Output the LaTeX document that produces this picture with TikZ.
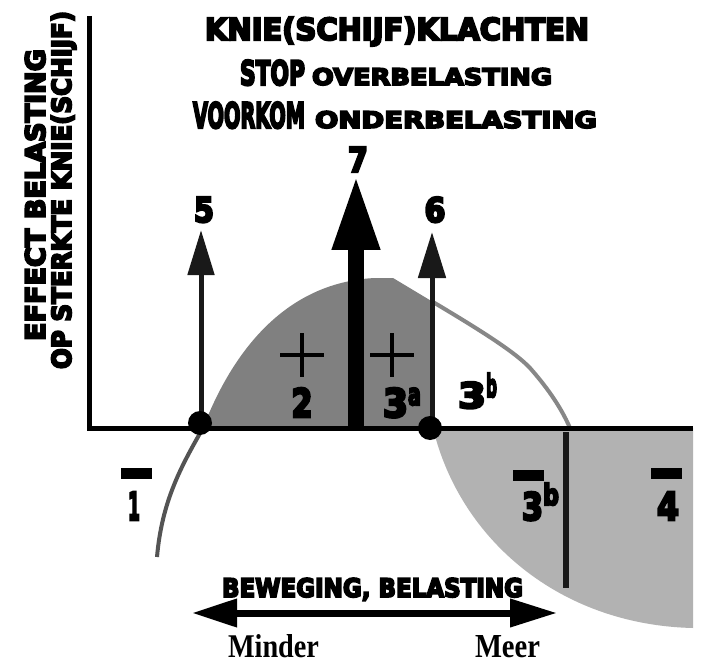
\documentclass[tikz,border=0pt]{standalone}
\usepackage{fontspec}
\usepackage{graphicx}
\usetikzlibrary{arrows.meta}
\newfontfamily\heavy{DejaVu Sans}[FakeBold=7, BoldFeatures={FakeBold=7}]
\newfontfamily\serifb{Liberation Serif}
\newcommand\hvfit[3]{\resizebox{#1}{#2}{\heavy\bfseries #3}}
\newcommand\sefit[3]{\resizebox{#1}{#2}{\serifb\bfseries #3}}
\begin{document}
\begin{tikzpicture}[x=1pt,y=-1pt,
  lbl/.style={inner sep=0pt, outer sep=0pt},
  shaft/.style={line width=5pt, draw=black!90},
  curveline/.style={line width=4pt},
  plus/.style={line width=4pt, draw=black}]
\useasboundingbox[fill=white] (0,0) rectangle (707,663);
% regions
\fill[black!50] (203,428) .. controls (235,345) and (290,282) .. (375,278) -- (393,278) -- (433,302) -- (433,428) -- cycle;
\fill[black!30] (433,428) .. controls (460,540) and (560,625) .. (693,628) -- (693,428) -- cycle;
% curves
\draw[curveline, draw=black!47] (433,302) .. controls (480,330) and (515,352) .. (530,368) .. controls (545,385) and (560,405) .. (570,428);
\draw[curveline, draw=black!67] (203,428) .. controls (182,465) and (162,500) .. (157,557);
\coordinate (vtop) at (566,432);
\coordinate (vbot) at (566,588);
\draw[line width=6pt, draw=black!90] (vtop) -- (vbot);
% axes
\coordinate (ytop) at (89,16);
\coordinate (orig) at (89,428);
\coordinate (xend) at (693,428);
\draw[line width=5pt, line join=miter] (ytop) -- (orig) -- (xend);
% arrows
\coordinate (b5) at (201,423); \coordinate (t5) at (201,230);
\coordinate (b6) at (432,428); \coordinate (t6) at (432,232);
\coordinate (b7) at (356,428); \coordinate (t7) at (356,175);
\draw[shaft, -{Triangle[length=45pt,width=26pt]}] (b5) -- (t5);
\draw[shaft, -{Triangle[length=46pt,width=27pt]}] (b6) -- (t6);
\draw[line width=16pt, -{Triangle[length=75pt,width=44pt]}] (b7) -- (t7);
% dots
\fill (200,423) circle[radius=12pt];
\fill (430,428) circle[radius=12pt];
% plus signs
\draw[plus] (280,355) -- (324,355) (302,333) -- (302,377);
\draw[plus] (370,355) -- (414,355) (392,333) -- (392,377);
% minus bars
\fill (121,468) rectangle (152,479);
\fill (513,470) rectangle (544,481);
\fill (651,468) rectangle (682,479);
% double arrow
\coordinate (la) at (192,613); \coordinate (ra) at (557,613);
\draw[line width=7pt, {Triangle[length=45pt,width=27pt]}-{Triangle[length=47pt,width=27pt]}] (la) -- (ra);
% title
\node[lbl, anchor=base west] (t1) at (205,40) {\hvfit{384pt}{23pt}{KNIE(SCHIJF)KLACHTEN}};
\node[lbl, anchor=base west] (t2) at (240,85) {\hvfit{65pt}{25pt}{STOP}\hspace{7pt}\hvfit{240pt}{17pt}{OVERBELASTING}};
\node[lbl, anchor=base west] (t3) at (193,128) {\hvfit{112pt}{26pt}{VOORKOM}\hspace{10pt}\hvfit{282pt}{17pt}{ONDERBELASTING}};
% y label
\node[lbl, rotate=90, anchor=base] (y1) at (45,195) {\hvfit{292pt}{20pt}{EFFECT BELASTING}};
\node[lbl, rotate=90, anchor=base] (y2) at (71,190) {\hvfit{358pt}{20pt}{OP STERKTE KNIE(SCHIJF)}};
% numbers
\node[lbl, anchor=base] (n5) at (204,222) {\hvfit{20pt}{25pt}{5}};
\node[lbl, anchor=base] (n6) at (435,222) {\hvfit{21pt}{25pt}{6}};
\node[lbl, anchor=base] (n7) at (358,172) {\hvfit{20pt}{25pt}{7}};
\node[lbl, anchor=base] (n2) at (302,417) {\hvfit{21pt}{29pt}{2}};
\node[lbl, anchor=base west] (n3a) at (383,417) {\hvfit{25pt}{29pt}{3}\raisebox{12pt}{\hvfit{13pt}{17pt}{a}}};
\node[lbl, anchor=base west] (n3b) at (458,408) {\hvfit{28pt}{26pt}{3}\raisebox{11pt}{\hvfit{11pt}{24pt}{b}}};
\node[lbl, anchor=base] (n1) at (134,520) {\hvfit{12pt}{28pt}{1}};
\node[lbl, anchor=base west] (n3bm) at (522,520) {\hvfit{21pt}{28pt}{3}\raisebox{15pt}{\hvfit{16pt}{22pt}{b}}};
\node[lbl, anchor=base] (n4) at (668,520) {\hvfit{22pt}{28pt}{4}};
% bottom labels
\node[lbl, anchor=base west] (bew) at (222,597) {\hvfit{301pt}{19pt}{BEWEGING, BELASTING}};
\node[lbl, anchor=base west] (mind) at (228,657) {\sefit{91pt}{23pt}{Minder}};
\node[lbl, anchor=base west] (meer) at (475,657) {\sefit{65pt}{22pt}{Meer}};
\end{tikzpicture}
\end{document}
